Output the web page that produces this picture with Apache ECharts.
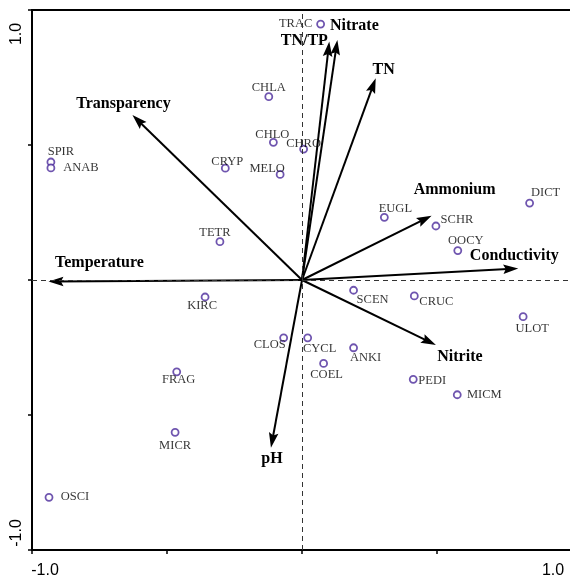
<!DOCTYPE html>
<html>
<head>
<meta charset="utf-8">
<script src="https://cdn.jsdelivr.net/npm/echarts@6/dist/echarts.min.js"></script>
<style>
  html, body { margin: 0; padding: 0; background: #fff; }
  #chart { width: 570px; height: 580px; }
</style>
</head>
<body>
<div id="chart"></div>
<script>
// species scores
var speciesNames = ['TRAC', 'CHLA', 'CHLO', 'CHRO', 'CRYP', 'MELO', 'SPIR', 'ANAB', 'TETR', 'KIRC',
  'EUGL', 'SCHR', 'OOCY', 'DICT', 'CRUC', 'ULOT', 'PEDI', 'MICM', 'SCEN', 'CLOS',
  'CYCL', 'ANKI', 'COEL', 'FRAG', 'MICR', 'OSCI'];
var speciesX = [0.069, -0.123, -0.106, 0.006, -0.284, -0.081, -0.930, -0.930, -0.304, -0.359,
  0.305, 0.496, 0.577, 0.843, 0.416, 0.819, 0.412, 0.575, 0.191, -0.068,
  0.021, 0.191, 0.080, -0.464, -0.470, -0.937];
var speciesY = [0.948, 0.679, 0.510, 0.485, 0.414, 0.391, 0.437, 0.415, 0.142, -0.063,
  0.232, 0.200, 0.109, 0.285, -0.059, -0.136, -0.368, -0.425, -0.038, -0.214,
  -0.214, -0.251, -0.309, -0.340, -0.564, -0.805];

// environmental vectors
var envNames = ['Nitrate', 'TN/TP', 'TN', 'Transparency', 'Temperature', 'Ammonium', 'Conductivity', 'Nitrite', 'pH'];
var envX = [0.131, 0.101, 0.273, -0.628, -0.939, 0.480, 0.801, 0.496, -0.115];
var envY = [0.889, 0.883, 0.747, 0.611, -0.006, 0.238, 0.043, -0.241, -0.621];

var xTickLabels = ['-1.0', '1.0'];
var yTickLabels = ['1.0', '-1.0'];

// label placement (pixels, relative to the point)
var speciesLabelOffset = {
  TRAC: [-25, 0], CHLA: [0, -9], CHLO: [-1, -8], CHRO: [0, -5], CRYP: [2, -7],
  MELO: [-13, -6], SPIR: [10, -10], ANAB: [30, 0], TETR: [-5, -9], KIRC: [-3, 9],
  EUGL: [11, -9], SCHR: [21, -6], OOCY: [8, -10], DICT: [16, -10], CRUC: [22, 6],
  ULOT: [9, 12], PEDI: [19, 1], MICM: [27, 0], SCEN: [19, 9], CLOS: [-14, 7],
  CYCL: [12, 11], ANKI: [12, 10], COEL: [3, 11], FRAG: [2, 8], MICR: [0, 13], OSCI: [26, -1]
};
var envLabelOffset = {
  'Nitrate': [17, -14], 'TN/TP': [-25, -1], 'TN': [8, -8], 'Transparency': [-9, -11],
  'Temperature': [51, -19], 'Ammonium': [23, -26], 'Conductivity': [-4, -13],
  'Nitrite': [24, 12], 'pH': [1, 11]
};

var chart = echarts.init(document.getElementById('chart'));

var speciesData = speciesNames.map(function (n, i) {
  return {
    name: n,
    value: [speciesX[i], speciesY[i]],
    label: { offset: speciesLabelOffset[n] || [0, 0] }
  };
});
var envData = envNames.map(function (n, i) { return [envX[i], envY[i]]; });

function renderArrow(params, api) {
  var name = envNames[params.dataIndex];
  var o = api.coord([0, 0]);
  var t = api.coord([api.value(0), api.value(1)]);
  var dx = t[0] - o[0], dy = t[1] - o[1];
  var len = Math.sqrt(dx * dx + dy * dy);
  var ux = dx / len, uy = dy / len;
  var px = -uy, py = ux;
  var headL = 15, headW = 4.8;
  var bx = t[0] - ux * headL, by = t[1] - uy * headL;
  var off = envLabelOffset[name] || [0, 0];
  return {
    type: 'group',
    children: [
      {
        type: 'line',
        shape: { x1: o[0], y1: o[1], x2: t[0] - ux * 6, y2: t[1] - uy * 6 },
        style: { stroke: '#000', lineWidth: 2 }
      },
      {
        type: 'polygon',
        shape: { points: [[t[0], t[1]], [bx + px * headW, by + py * headW], [t[0] - ux * 12.5, t[1] - uy * 12.5], [bx - px * headW, by - py * headW]] },
        style: { fill: '#000' }
      },
      {
        type: 'text',
        x: t[0] + off[0],
        y: t[1] + off[1],
        style: {
          text: name,
          fill: '#000',
          font: 'bold 16px "Liberation Serif", "DejaVu Serif", serif',
          align: 'center',
          verticalAlign: 'middle'
        }
      }
    ]
  };
}

var axisCommon = {
  type: 'value',
  min: -1,
  max: 1,
  interval: 0.5,
  axisLine: { show: true, onZero: false, lineStyle: { color: '#000', width: 2 } },
  axisTick: { show: true, inside: false, length: 4, lineStyle: { color: '#000', width: 1.5 } },
  axisLabel: { show: false },
  splitLine: { show: false }
};

var option = {
  animation: false,
  backgroundColor: '#fff',
  grid: {
    left: 32, top: 10, width: 540, height: 540,
    outerBoundsMode: 'none',
    show: true, borderColor: '#000', borderWidth: 2
  },
  xAxis: axisCommon,
  yAxis: axisCommon,
  graphic: [
    { type: 'text', x: 45, y: 571, style: { text: xTickLabels[0], font: '16px "Liberation Sans", Arial, sans-serif', fill: '#000', align: 'center', verticalAlign: 'middle' } },
    { type: 'text', x: 553, y: 571, style: { text: xTickLabels[1], font: '16px "Liberation Sans", Arial, sans-serif', fill: '#000', align: 'center', verticalAlign: 'middle' } },
    { type: 'text', x: 17, y: 34, rotation: Math.PI / 2, style: { text: yTickLabels[0], font: '16px "Liberation Sans", Arial, sans-serif', fill: '#000', align: 'center', verticalAlign: 'middle' } },
    { type: 'text', x: 17, y: 533, rotation: Math.PI / 2, style: { text: yTickLabels[1], font: '16px "Liberation Sans", Arial, sans-serif', fill: '#000', align: 'center', verticalAlign: 'middle' } }
  ],
  series: [
    {
      type: 'scatter',
      data: speciesData,
      symbol: 'circle',
      symbolSize: 7,
      itemStyle: { color: '#fff', borderColor: '#4b2a9b', borderWidth: 1.8 },
      label: {
        show: true,
        position: 'inside',
        formatter: '{b}',
        color: '#000',
        fontFamily: '"Liberation Serif", "DejaVu Serif", serif',
        fontSize: 12.5
      },
      markLine: {
        silent: true,
        symbol: 'none',
        label: { show: false },
        lineStyle: { color: '#333', width: 1, type: [5, 4] },
        data: [{ xAxis: 0 }, { yAxis: 0 }]
      },
      z: 3
    },
    {
      type: 'custom',
      renderItem: renderArrow,
      data: envData,
      encode: { x: 0, y: 1 },
      z: 4
    }
  ]
};

chart.setOption(option);
</script>
</body>
</html>
